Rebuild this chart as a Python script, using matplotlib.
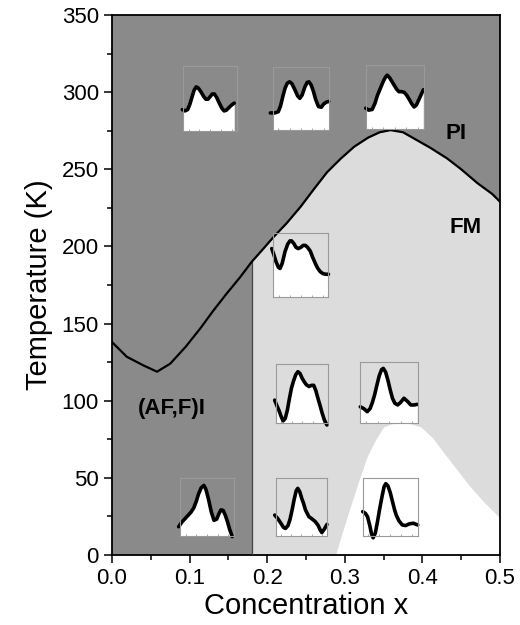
import matplotlib
matplotlib.use("Agg")
import matplotlib.pyplot as plt
import numpy as np

plt.rcParams['font.family'] = ['Liberation Sans', 'DejaVu Sans']

# phase boundary T_c(x) (black line)
line_x = [0.0, 0.019, 0.04, 0.058, 0.075, 0.095, 0.114, 0.13, 0.148, 0.165,
          0.180, 0.195, 0.208, 0.225, 0.243, 0.26, 0.277, 0.295, 0.312, 0.33,
          0.345, 0.359, 0.375, 0.389, 0.41, 0.432, 0.45, 0.471, 0.49, 0.5]
line_T = [138, 128.5, 123, 118.8, 124, 135, 147, 158, 169.6, 180,
          190, 198.5, 206, 215, 225.7, 237, 248, 257, 264.6, 270.5,
          274, 275.4, 274, 270, 264, 257, 250, 241, 234, 229]
x_split = 0.18  # (AF,F)I / FM border

# white dome at low temperature
dome_x = [0.288, 0.297, 0.307, 0.318, 0.329, 0.340, 0.350, 0.360, 0.372,
          0.385, 0.398, 0.413, 0.428, 0.445, 0.462, 0.480, 0.5]
dome_T = [0, 15, 31, 48, 64, 75, 83, 85, 85.7,
          85, 83, 76, 66, 55, 44, 34, 24]

# small insets: curve read in box fractions (x, y)
inset1_x = [-0.02, 0.03, 0.08, 0.12, 0.16, 0.20, 0.24, 0.28, 0.33, 0.38, 0.42, 0.46,
            0.50, 0.54, 0.58, 0.62, 0.67, 0.72, 0.76, 0.80, 0.85, 0.90, 0.95]
inset1_y = [0.33, 0.31, 0.33, 0.41, 0.52, 0.63, 0.68, 0.66, 0.60, 0.53, 0.49, 0.49,
            0.53, 0.57, 0.57, 0.52, 0.43, 0.35, 0.31, 0.32, 0.36, 0.40, 0.43]
inset2_x = [-0.04, 0.04, 0.10, 0.14, 0.18, 0.22, 0.26, 0.30, 0.34, 0.39, 0.44, 0.48,
            0.52, 0.57, 0.61, 0.64, 0.68, 0.72, 0.76, 0.81, 0.86, 0.90, 0.95, 0.99]
inset2_y = [0.27, 0.27, 0.29, 0.38, 0.53, 0.66, 0.74, 0.76, 0.73, 0.64, 0.54, 0.50,
            0.55, 0.68, 0.75, 0.76, 0.71, 0.61, 0.48, 0.37, 0.36, 0.41, 0.44, 0.45]
inset3_x = [0.0, 0.05, 0.11, 0.16, 0.20, 0.25, 0.30, 0.34, 0.37, 0.41, 0.45, 0.49,
            0.53, 0.57, 0.62, 0.66, 0.70, 0.74, 0.79, 0.83, 0.87, 0.91, 0.95, 0.99]
inset3_y = [0.32, 0.29, 0.30, 0.40, 0.52, 0.63, 0.74, 0.81, 0.84, 0.80, 0.74, 0.68,
            0.62, 0.58, 0.58, 0.57, 0.53, 0.47, 0.39, 0.34, 0.37, 0.45, 0.53, 0.61]
inset4_x = [-0.03, 0.01, 0.05, 0.09, 0.12, 0.16, 0.21, 0.26, 0.30, 0.33, 0.37, 0.41, 0.45,
            0.50, 0.54, 0.58, 0.62, 0.67, 0.71, 0.76, 0.80, 0.85, 0.90, 0.95, 1.0]
inset4_y = [0.75, 0.65, 0.54, 0.46, 0.44, 0.52, 0.70, 0.82, 0.87, 0.87, 0.83, 0.77, 0.75,
            0.77, 0.80, 0.80, 0.77, 0.71, 0.62, 0.52, 0.45, 0.39, 0.36, 0.35, 0.35]
inset5_x = [-0.02, 0.02, 0.06, 0.10, 0.14, 0.18, 0.22, 0.26, 0.30, 0.34, 0.38, 0.42, 0.46,
            0.50, 0.54, 0.58, 0.63, 0.68, 0.72, 0.76, 0.80, 0.84, 0.88, 0.92, 0.97]
inset5_y = [0.39, 0.30, 0.22, 0.12, 0.04, 0.08, 0.22, 0.42, 0.60, 0.72, 0.82, 0.87, 0.84,
            0.76, 0.70, 0.65, 0.62, 0.64, 0.64, 0.55, 0.42, 0.30, 0.17, 0.06, -0.03]
inset6_x = [0.0, 0.06, 0.12, 0.17, 0.21, 0.25, 0.29, 0.33, 0.37, 0.40, 0.44,
            0.48, 0.52, 0.56, 0.60, 0.65, 0.70, 0.76, 0.82, 0.88, 0.94, 0.99]
inset6_y = [0.27, 0.24, 0.19, 0.24, 0.34, 0.47, 0.63, 0.78, 0.88, 0.90, 0.84,
            0.71, 0.55, 0.41, 0.33, 0.30, 0.34, 0.41, 0.36, 0.30, 0.30, 0.31]
inset7_x = [-0.03, 0.03, 0.09, 0.15, 0.20, 0.25, 0.30, 0.34, 0.39, 0.44, 0.48,
            0.53, 0.58, 0.63, 0.68, 0.72, 0.76, 0.80, 0.84, 0.88, 0.92, 0.97]
inset7_y = [0.16, 0.24, 0.30, 0.36, 0.41, 0.48, 0.60, 0.72, 0.83, 0.87, 0.80,
            0.62, 0.41, 0.27, 0.29, 0.38, 0.45, 0.44, 0.36, 0.25, 0.12, -0.01]
inset8_x = [-0.02, 0.04, 0.10, 0.15, 0.19, 0.24, 0.28, 0.32, 0.36, 0.40, 0.43, 0.47,
            0.51, 0.54, 0.58, 0.62, 0.65, 0.70, 0.77, 0.83, 0.87, 0.90, 0.95, 1.0]
inset8_y = [0.36, 0.30, 0.22, 0.15, 0.13, 0.18, 0.29, 0.45, 0.63, 0.78, 0.82, 0.76,
            0.64, 0.57, 0.45, 0.38, 0.33, 0.30, 0.25, 0.18, 0.10, 0.06, 0.12, 0.20]
inset9_x = [0.0, 0.05, 0.09, 0.13, 0.16, 0.19, 0.23, 0.27, 0.31, 0.35, 0.39, 0.42,
            0.46, 0.50, 0.54, 0.58, 0.61, 0.66, 0.72, 0.78, 0.85, 0.92, 1.0]
inset9_y = [0.42, 0.39, 0.33, 0.18, 0.04, -0.03, 0.05, 0.25, 0.47, 0.67, 0.85, 0.90,
            0.86, 0.75, 0.60, 0.45, 0.36, 0.26, 0.19, 0.18, 0.21, 0.22, 0.19]

# inset boxes in data units: x0, T0, width, height
inset_boxes = [
    (0.092, 274.8, 0.069, 42.1),
    (0.207, 275.4, 0.073, 41.2),
    (0.327, 276.4, 0.075, 41.2),
    (0.208, 167.4, 0.071, 41.6),
    (0.211, 85.4, 0.068, 38.4),
    (0.320, 85.4, 0.074, 39.5),
    (0.088, 12.3, 0.069, 37.7),
    (0.211, 12.3, 0.066, 37.7),
    (0.323, 12.3, 0.071, 37.7),
]
inset_curves = [
    (inset1_x, inset1_y), (inset2_x, inset2_y), (inset3_x, inset3_y),
    (inset4_x, inset4_y), (inset5_x, inset5_y), (inset6_x, inset6_y),
    (inset7_x, inset7_y), (inset8_x, inset8_y), (inset9_x, inset9_y),
]

dark = '#8a8a8a'
light = '#dcdcdc'

fig = plt.figure(figsize=(5.2, 6.25), dpi=100)
ax = fig.add_axes([0.2154, 0.112, 0.7461, 0.864])
ax.set_facecolor(dark)

# FM region below the line for x >= x_split
lx = np.array(line_x)
lT = np.array(line_T)
xs = np.concatenate([[x_split], lx[lx > x_split]])
Ts = np.interp(xs, lx, lT)
ax.fill_between(xs, 0, Ts, color=light, lw=0, zorder=1)
ax.fill_between(dome_x, 0, dome_T, color='white', lw=0, zorder=2)
ax.plot([x_split, x_split], [0, np.interp(x_split, lx, lT)], color='#444444', lw=0.9, zorder=3)
ax.plot(line_x, line_T, color='black', lw=1.6, zorder=4, solid_joinstyle='round')

ax.text(0.443, 273, 'PI', fontsize=16, fontweight='bold', ha='center', va='center', zorder=5)
ax.text(0.456, 212, 'FM', fontsize=16, fontweight='bold', ha='center', va='center', zorder=5)
ax.text(0.077, 95, '(AF,F)I', fontsize=16, fontweight='bold', ha='center', va='center', zorder=5)

ax.set_xlim(0, 0.5)
ax.set_ylim(0, 350)
ax.set_xticks(np.arange(0, 0.51, 0.1))
ax.set_xticks(np.arange(0, 0.51, 0.05), minor=True)
ax.set_yticks(np.arange(0, 351, 50))
ax.set_yticks(np.arange(0, 351, 25), minor=True)
ax.set_xticklabels(['0.0', '0.1', '0.2', '0.3', '0.4', '0.5'])
ax.tick_params(which='major', direction='out', length=6, width=1.1, labelsize=16)
ax.tick_params(which='minor', direction='out', length=3.5, width=1.1)
for s in ax.spines.values():
    s.set_linewidth(1.3)
ax.set_xlabel('Concentration x', fontsize=21, labelpad=2)
ax.set_ylabel('Temperature (K)', fontsize=21, labelpad=6)

for (x0, T0, w, h), (cx, cy) in zip(inset_boxes, inset_curves):
    ins = ax.inset_axes([x0, T0, w, h], transform=ax.transData, zorder=6)
    ins.set_facecolor('none')
    ins.set_xlim(0, 1)
    ins.set_ylim(0, 1)
    ins.fill_between(cx, -0.1, cy, color='white', lw=0)
    ins.plot(cx, cy, color='black', lw=2.6, clip_on=False,
             solid_joinstyle='round', solid_capstyle='round')
    ins.set_xticks([0.1, 0.3, 0.5, 0.7, 0.9])
    ins.set_yticks([])
    ins.tick_params(axis='x', direction='in', length=1.5, width=0.6, color='#999999',
                    labelbottom=False)
    for s in ins.spines.values():
        s.set_color('#9a9a9a')
        s.set_linewidth(0.8)

fig.savefig('out.png', dpi=100)
